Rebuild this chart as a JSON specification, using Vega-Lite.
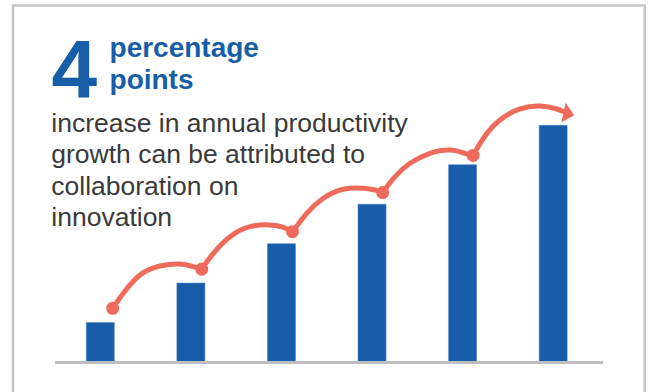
{
  "$schema": "https://vega.github.io/schema/vega-lite/v6.json",
  "width": 548,
  "height": 355,
  "autosize": {"type": "none"},
  "padding": {"left": 55, "top": 7, "right": 49, "bottom": 30},
  "background": "white",
  "config": {"view": {"stroke": null}},
  "datasets": {
    "bars": [
      {"step": 1, "value": 1},
      {"step": 2, "value": 2},
      {"step": 3, "value": 3},
      {"step": 4, "value": 4},
      {"step": 5, "value": 5},
      {"step": 6, "value": 6}
    ],
    "arc": [
      {"seg": 1, "x": 1.137, "y": 1.362},
      {"seg": 1, "x": 1.254, "y": 1.742},
      {"seg": 1, "x": 1.438, "y": 2.206},
      {"seg": 1, "x": 1.659, "y": 2.434},
      {"seg": 1, "x": 1.880, "y": 2.485},
      {"seg": 1, "x": 2.027, "y": 2.416},
      {"seg": 1, "x": 2.120, "y": 2.350},
      {"seg": 2, "x": 2.120, "y": 2.360},
      {"seg": 2, "x": 2.248, "y": 2.756},
      {"seg": 2, "x": 2.432, "y": 3.177},
      {"seg": 2, "x": 2.653, "y": 3.431},
      {"seg": 2, "x": 2.874, "y": 3.474},
      {"seg": 2, "x": 3.020, "y": 3.415},
      {"seg": 2, "x": 3.122, "y": 3.304},
      {"seg": 3, "x": 3.125, "y": 3.304},
      {"seg": 3, "x": 3.279, "y": 3.770},
      {"seg": 3, "x": 3.462, "y": 4.151},
      {"seg": 3, "x": 3.683, "y": 4.379},
      {"seg": 3, "x": 3.904, "y": 4.404},
      {"seg": 3, "x": 4.033, "y": 4.361},
      {"seg": 3, "x": 4.118, "y": 4.293},
      {"seg": 4, "x": 4.118, "y": 4.298},
      {"seg": 4, "x": 4.254, "y": 4.698},
      {"seg": 4, "x": 4.419, "y": 5.038},
      {"seg": 4, "x": 4.640, "y": 5.292},
      {"seg": 4, "x": 4.861, "y": 5.375},
      {"seg": 4, "x": 5.026, "y": 5.292},
      {"seg": 4, "x": 5.118, "y": 5.231},
      {"seg": 5, "x": 5.115, "y": 5.241},
      {"seg": 5, "x": 5.247, "y": 5.730},
      {"seg": 5, "x": 5.413, "y": 6.136},
      {"seg": 5, "x": 5.634, "y": 6.415},
      {"seg": 5, "x": 5.854, "y": 6.491},
      {"seg": 5, "x": 6.020, "y": 6.427},
      {"seg": 5, "x": 6.130, "y": 6.339}
    ],
    "dots": [
      {"x": 1.137, "y": 1.362},
      {"x": 2.120, "y": 2.355},
      {"x": 3.122, "y": 3.304},
      {"x": 4.118, "y": 4.295},
      {"x": 5.116, "y": 5.236}
    ]
  },
  "layer": [
    {
      "data": {"values": [{}]},
      "mark": {"type": "rect", "fill": null, "stroke": "#c4c6c8", "strokeWidth": 2.5},
      "encoding": {
        "x": {"datum": 0.0363, "type": "quantitative", "scale": {"domain": [0.5, 6.55], "nice": false, "zero": false, "padding": 0}, "axis": null},
        "x2": {"datum": 7.011},
        "y": {"datum": 9.04, "type": "quantitative", "scale": {"domain": [0, 9], "nice": false, "padding": 0}, "axis": null},
        "y2": {"datum": -0.97}
      }
    },
    {
      "data": {"name": "bars"},
      "mark": {"type": "bar", "width": 28, "color": "#165CA8", "stroke": "#4f86c4", "strokeWidth": 0.6},
      "encoding": {
        "x": {"field": "step", "type": "quantitative", "scale": {"domain": [0.5, 6.55], "nice": false, "zero": false, "padding": 0}, "axis": null},
        "y": {"field": "value", "type": "quantitative", "scale": {"domain": [0, 9], "nice": false, "padding": 0}, "axis": null}
      }
    },
    {
      "data": {"values": [{}]},
      "mark": {"type": "rule", "color": "#bcbec0", "strokeWidth": 3},
      "encoding": {
        "x": {"datum": 0.5, "type": "quantitative", "scale": {"domain": [0.5, 6.55], "nice": false, "zero": false, "padding": 0}, "axis": null},
        "x2": {"datum": 6.55},
        "y": {"datum": -0.012, "type": "quantitative", "scale": {"domain": [0, 9], "nice": false, "padding": 0}, "axis": null}
      }
    },
    {
      "data": {"name": "arc"},
      "mark": {"type": "line", "color": "#EE6B5B", "strokeWidth": 5, "interpolate": "natural", "strokeCap": "round"},
      "encoding": {
        "x": {"field": "x", "type": "quantitative", "scale": {"domain": [0.5, 6.55], "nice": false, "zero": false, "padding": 0}, "axis": null},
        "y": {"field": "y", "type": "quantitative", "scale": {"domain": [0, 9], "nice": false, "padding": 0}, "axis": null},
        "detail": {"field": "seg"}
      }
    },
    {
      "data": {"name": "dots"},
      "mark": {"type": "point", "filled": true, "shape": "circle", "size": 170, "color": "#EE6B5B", "opacity": 1},
      "encoding": {
        "x": {"field": "x", "type": "quantitative", "scale": {"domain": [0.5, 6.55], "nice": false, "zero": false, "padding": 0}, "axis": null},
        "y": {"field": "y", "type": "quantitative", "scale": {"domain": [0, 9], "nice": false, "padding": 0}, "axis": null}
      }
    },
    {
      "data": {"values": [{}]},
      "mark": {"type": "point", "filled": true, "shape": "M-0.1,-1L1,0.05L-0.1,1Z", "size": 400, "angle": 12, "color": "#EE6B5B", "opacity": 1},
      "encoding": {
        "x": {"datum": 6.125, "type": "quantitative", "scale": {"domain": [0.5, 6.55], "nice": false, "zero": false, "padding": 0}, "axis": null},
        "y": {"datum": 6.32, "type": "quantitative", "scale": {"domain": [0, 9], "nice": false, "padding": 0}, "axis": null}
      }
    },
    {
      "data": {"values": [{}]},
      "mark": {"type": "text", "font": "Liberation Sans", "fontWeight": "bold", "fontSize": 82, "color": "#175DA8", "align": "left", "baseline": "alphabetic"},
      "encoding": {
        "x": {"datum": 0.461, "type": "quantitative", "scale": {"domain": [0.5, 6.55], "nice": false, "zero": false, "padding": 0}, "axis": null},
        "y": {"datum": 6.719, "type": "quantitative", "scale": {"domain": [0, 9], "nice": false, "padding": 0}, "axis": null},
        "text": {"value": "4"}
      }
    },
    {
      "data": {"values": [{}]},
      "mark": {"type": "text", "font": "Liberation Sans", "fontWeight": "bold", "fontSize": 28, "color": "#175DA8", "align": "left", "baseline": "alphabetic", "lineHeight": 32},
      "encoding": {
        "x": {"datum": 1.102, "type": "quantitative", "scale": {"domain": [0.5, 6.55], "nice": false, "zero": false, "padding": 0}, "axis": null},
        "y": {"datum": 7.726, "type": "quantitative", "scale": {"domain": [0, 9], "nice": false, "padding": 0}, "axis": null},
        "text": {"value": ["percentage", "points"]}
      }
    },
    {
      "data": {"values": [{}]},
      "mark": {"type": "text", "font": "Liberation Sans", "fontSize": 26.5, "color": "#3a3a3a", "align": "left", "baseline": "alphabetic", "lineHeight": 31.6},
      "encoding": {
        "x": {"datum": 0.459, "type": "quantitative", "scale": {"domain": [0.5, 6.55], "nice": false, "zero": false, "padding": 0}, "axis": null},
        "y": {"datum": 5.839, "type": "quantitative", "scale": {"domain": [0, 9], "nice": false, "padding": 0}, "axis": null},
        "text": {"value": ["increase in annual productivity", "growth can be attributed to", "collaboration on", "innovation"]}
      }
    }
  ]
}
